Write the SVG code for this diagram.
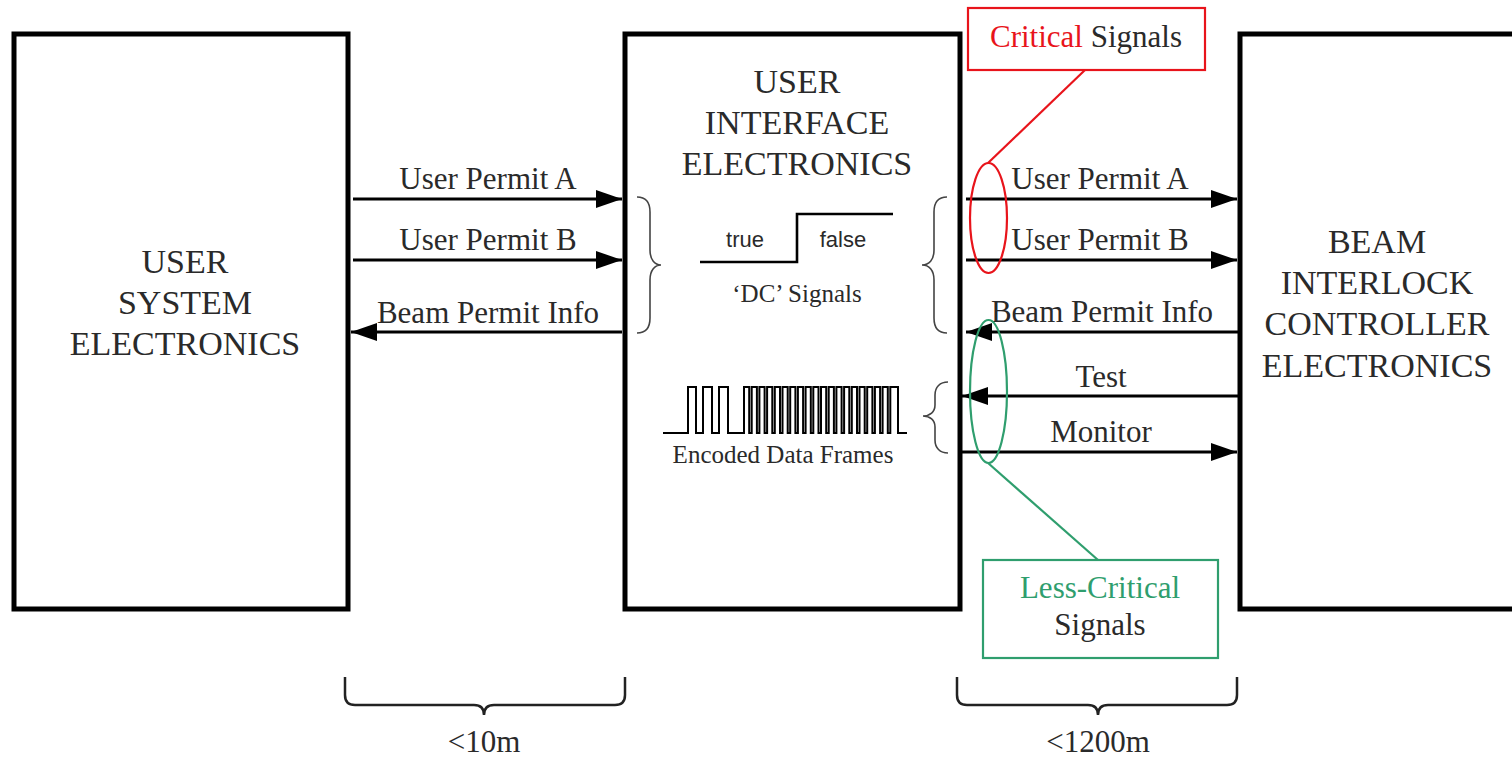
<svg xmlns="http://www.w3.org/2000/svg" width="1512" height="758" viewBox="0 0 1512 758">
<style>
.box{fill:#fff;stroke:#000;stroke-width:5}
.t{font-family:"Liberation Serif","Times New Roman",serif;fill:#2a2a2a;text-anchor:middle}
.big{font-size:34px}
.lbl{font-size:31px}
.small{font-size:25px}
.sans{font-family:"Liberation Sans",Arial,sans-serif;font-size:22px;fill:#2a2a2a;text-anchor:middle}
.arr{stroke:#000;stroke-width:3;fill:none;marker-end:url(#ah)}
.brace{stroke:#444;stroke-width:1.6;fill:none}
.bbrace{stroke:#222;stroke-width:2.5;fill:none}
.wave{stroke:#000;stroke-width:2.6;fill:none;stroke-linejoin:miter}
.wave2{stroke:#000;stroke-width:2;fill:none;stroke-linejoin:miter}
.red{stroke:#e8141b;stroke-width:2.2;fill:none}
.green{stroke:#2f9e6e;stroke-width:2.2;fill:none}
</style>
<defs>
<marker id="ah" markerUnits="userSpaceOnUse" markerWidth="26" markerHeight="18" viewBox="0 0 26 18" refX="26" refY="9" orient="auto">
<path d="M0,0 L26,9 L0,18 z" fill="#000"/>
</marker>
</defs>
<rect width="1512" height="758" fill="#fff"/>

<g id="user-system">
<rect class="box" x="14" y="34" width="334" height="575"/>
<text class="t big" x="185" y="273">USER</text>
<text class="t big" x="185" y="314">SYSTEM</text>
<text class="t big" x="185" y="355">ELECTRONICS</text>
</g>

<g id="user-interface">
<rect class="box" x="625" y="34" width="335" height="575"/>
<text class="t big" x="797" y="93">USER</text>
<text class="t big" x="797" y="134">INTERFACE</text>
<text class="t big" x="797" y="175">ELECTRONICS</text>
<path class="wave" d="M700,262 H797 V214 H893"/>
<text class="sans" x="745" y="247">true</text>
<text class="sans" x="843" y="247">false</text>
<text class="t small" x="797" y="302">‘DC’ Signals</text>
<path class="wave2" d="M663,433 H688 V387 H696 V433 H703 V387 H712 V433 H719 V387 H728 V433 H744 V387 H749.2 V433 H751.7 V387 H756.9 V433 H759.4 V387 H764.6 V433 H767.1 V387 H772.3 V433 H774.8 V387 H780 V433 H782.5 V387 H787.7 V433 H790.2 V387 H795.4 V433 H797.9 V387 H803.1 V433 H805.6 V387 H810.8 V433 H813.3 V387 H818.5 V433 H821 V387 H826.2 V433 H828.7 V387 H833.9 V433 H836.4 V387 H841.6 V433 H844.1 V387 H849.3 V433 H851.8 V387 H857 V433 H859.5 V387 H864.7 V433 H867.2 V387 H872.4 V433 H874.9 V387 H880.1 V433 H882.6 V387 H887.8 V433 H890.3 V387 H898 V433 H907"/>
<text class="t small" x="783" y="463">Encoded Data Frames</text>
<path class="brace" d="M637,197 C645,197 650,202 650,212 L650,250 C650,260 655,265 661,265 C655,265 650,270 650,280 L650,318 C650,328 645,333 637,333"/>
<path class="brace" d="M947,197 C939,197 934,202 934,212 L934,250 C934,260 929,265 922,265 C929,265 934,270 934,280 L934,318 C934,328 939,333 947,333"/>
<path class="brace" d="M948,382 C940,382 935,387 935,395 L935,405 C935,412 930,416 923,416 C930,416 935,420 935,427 L935,440 C935,448 940,453 948,453"/>
</g>

<g id="beam-interlock">
<path class="box" d="M1520,34 H1240 V609 H1520"/>
<text class="t big" x="1377" y="253">BEAM</text>
<text class="t big" x="1377" y="294">INTERLOCK</text>
<text class="t big" x="1377" y="335">CONTROLLER</text>
<text class="t big" x="1377" y="377">ELECTRONICS</text>
</g>

<g id="connectors">
<line class="arr" x1="353" y1="199" x2="622" y2="199"/>
<line class="arr" x1="353" y1="260" x2="622" y2="260"/>
<line class="arr" x1="622" y1="332" x2="351" y2="332"/>
<text class="t lbl" x="488" y="189">User Permit A</text>
<text class="t lbl" x="488" y="250">User Permit B</text>
<text class="t lbl" x="488" y="323">Beam Permit Info</text>

<line class="arr" x1="966" y1="199" x2="1237" y2="199"/>
<line class="arr" x1="966" y1="260" x2="1237" y2="260"/>
<line class="arr" x1="1238" y1="332" x2="966" y2="332"/>
<line class="arr" x1="1238" y1="396" x2="962" y2="396"/>
<line class="arr" x1="962" y1="452" x2="1237" y2="452"/>
<text class="t lbl" x="1100" y="189">User Permit A</text>
<text class="t lbl" x="1100" y="250">User Permit B</text>
<text class="t lbl" x="1102" y="322">Beam Permit Info</text>
<text class="t lbl" x="1101" y="387">Test</text>
<text class="t lbl" x="1101" y="442">Monitor</text>
</g>

<g id="critical">
<rect class="red" x="968" y="8" width="237" height="62"/>
<text class="t lbl" x="1086" y="47"><tspan fill="#e8141b">Critical</tspan> Signals</text>
<ellipse class="red" cx="988.5" cy="218" rx="18.5" ry="55"/>
<line class="red" x1="988" y1="163" x2="1085" y2="70"/>
</g>

<g id="less-critical">
<rect class="green" x="983" y="560" width="235" height="98"/>
<text class="t lbl" x="1100" y="598" style="fill:#2f9e6e">Less-Critical</text>
<text class="t lbl" x="1100" y="635">Signals</text>
<ellipse class="green" cx="988.5" cy="391.5" rx="18.5" ry="71.5"/>
<line class="green" x1="988" y1="463" x2="1098" y2="560"/>
</g>

<g id="dist-10m">
<path class="bbrace" d="M345,677 V695 Q345,705 355,705 H474 Q484,705 484,715 Q484,705 494,705 H615 Q625,705 625,695 V677"/>
<text class="t lbl" x="484" y="752">&lt;10m</text>
</g>
<g id="dist-1200m">
<path class="bbrace" d="M957,677 V695 Q957,705 967,705 H1088 Q1098,705 1098,715 Q1098,705 1108,705 H1227 Q1237,705 1237,695 V677"/>
<text class="t lbl" x="1098" y="752">&lt;1200m</text>
</g>
</svg>
